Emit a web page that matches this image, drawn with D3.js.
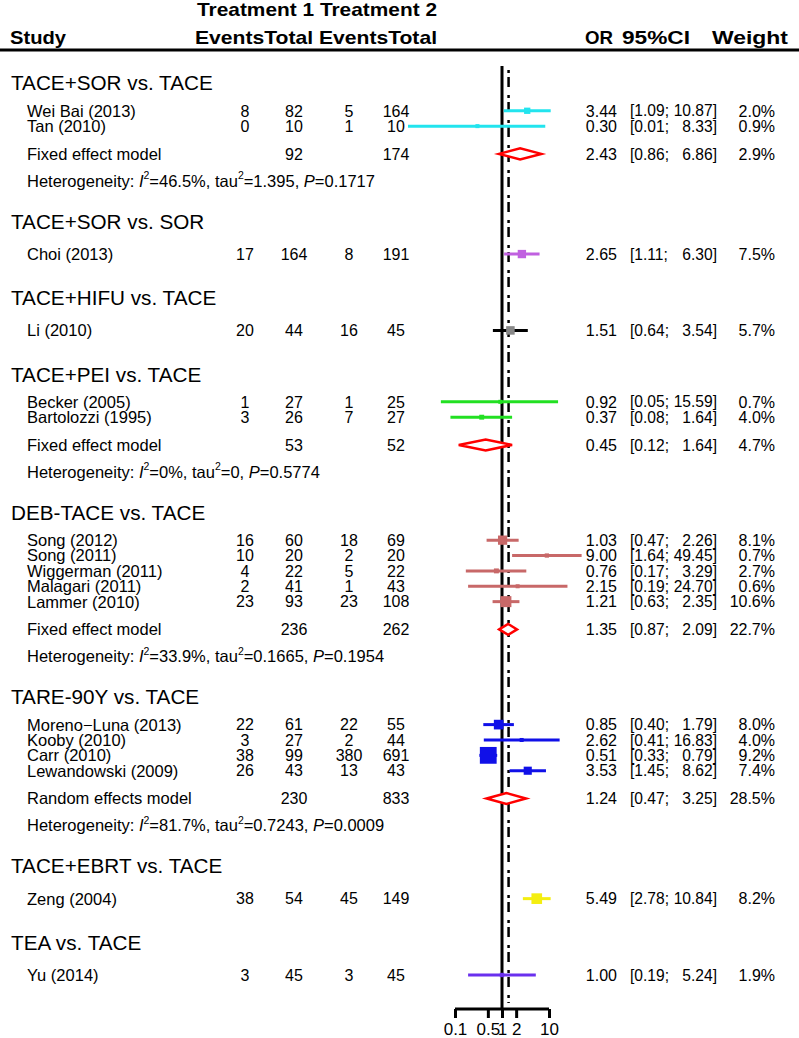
<!DOCTYPE html>
<html>
<head>
<meta charset="utf-8">
<script src="https://cdn.jsdelivr.net/npm/d3@7"></script>
<style>
  body { margin: 0; background: #fff; }
  svg { display: block; font-family: "Liberation Sans", Arial, sans-serif; }
</style>
</head>
<body>
<div id="chart"></div>
<script>
// Subgroups
const groupNames = ['TACE+SOR vs. TACE', 'TACE+SOR vs. SOR', 'TACE+HIFU vs. TACE', 'TACE+PEI vs. TACE',
    'DEB-TACE vs. TACE', 'TARE-90Y vs. TACE', 'TACE+EBRT vs. TACE', 'TEA vs. TACE'];

// Studies
const studyNames = ['Wei Bai (2013)', 'Tan (2010)', 'Choi (2013)', 'Li (2010)', 'Becker (2005)', 'Bartolozzi (1995)',
    'Song  (2012)', 'Song (2011)', 'Wiggerman (2011)', 'Malagari (2011)', 'Lammer (2010)',
    'Moreno\u2212Luna (2013)', 'Kooby (2010)', 'Carr (2010)', 'Lewandowski (2009)', 'Zeng (2004)', 'Yu (2014)'];
const studyGroup = [0, 0, 1, 2, 3, 3, 4, 4, 4, 4, 4, 5, 5, 5, 5, 6, 7];
const events1 = [8, 0, 17, 20, 1, 3, 16, 10, 4, 2, 23, 22, 3, 38, 26, 38, 3];
const total1 = [82, 10, 164, 44, 27, 26, 60, 20, 22, 41, 93, 61, 27, 99, 43, 54, 45];
const events2 = [5, 1, 8, 16, 1, 7, 18, 2, 5, 1, 23, 22, 2, 380, 13, 45, 3];
const total2 = [164, 10, 191, 45, 25, 27, 69, 20, 22, 43, 108, 55, 44, 691, 43, 149, 45];
const studyOR = [3.44, 0.30, 2.65, 1.51, 0.92, 0.37, 1.03, 9.00, 0.76, 2.15, 1.21, 0.85, 2.62, 0.51, 3.53, 5.49, 1.00];
const studyLow = [1.09, 0.01, 1.11, 0.64, 0.05, 0.08, 0.47, 1.64, 0.17, 0.19, 0.63, 0.40, 0.41, 0.33, 1.45, 2.78, 0.19];
const studyHigh = [10.87, 8.33, 6.30, 3.54, 15.59, 1.64, 2.26, 49.45, 3.29, 24.70, 2.35, 1.79, 16.83, 0.79, 8.62, 10.84, 5.24];
const studyWeight = ['2.0%', '0.9%', '7.5%', '5.7%', '0.7%', '4.0%', '8.1%', '0.7%', '2.7%', '0.6%', '10.6%',
    '8.0%', '4.0%', '9.2%', '7.4%', '8.2%', '1.9%'];

// Pooled estimates
const pooledGroup = [0, 3, 4, 5];
const pooledLabel = ['Fixed effect model', 'Fixed effect model', 'Fixed effect model', 'Random effects model'];
const pooledTotal1 = [92, 53, 236, 230];
const pooledTotal2 = [174, 52, 262, 833];
const pooledOR = [2.43, 0.45, 1.35, 1.24];
const pooledLow = [0.86, 0.12, 0.87, 0.47];
const pooledHigh = [6.86, 1.64, 2.09, 3.25];
const pooledWeight = ['2.9%', '4.7%', '22.7%', '28.5%'];

// Heterogeneity
const hetI2 = ['46.5%', '0%', '33.9%', '81.7%'];
const hetTau2 = ['1.395', '0', '0.1665', '0.7243'];
const hetP = ['0.1717', '0.5774', '0.1954', '0.0009'];

// Axis
const tickValues = [0.1, 0.5, 1, 2, 10];
const tickLabels = ['0.1', '0.5', '1', '2', '10'];
const dashedRef = 1.38;

const groupColors = ['#22e4ee', '#c060e0', '#000000', '#22e022', '#c86868', '#1010e8', '#f4ee10', '#6a30ee'];

const width = 799, height = 1038;
const svg = d3.select('#chart')
    .append('svg')
    .attr('width', width)
    .attr('height', height);
svg.append('rect').attr('width', width).attr('height', height).attr('fill', '#fff');

// Build the row list and lay it out
const rows = [];
groupNames.forEach((g, gi) => {
    const idx = studyGroup.map((s, i) => s === gi ? i : -1).filter(i => i >= 0);
    const pi = pooledGroup.indexOf(gi);
    rows.push({type: 'head', gi, gap: 41});
    idx.forEach((i, k) => rows.push({type: 'study', gi, i, gap: k === 0 ? (idx.length > 1 ? 28 : 33) : 15.5}));
    if (pi >= 0) {
        rows.push({type: 'pooled', gi, pi, gap: 28});
        rows.push({type: 'het', gi, pi, gap: 27});
    }
});
// gap before a heading depends on what came before it
let acc = 0;
rows.forEach((r, k) => {
    if (k > 0) {
        let gap = r.gap;
        if (r.type === 'head' && rows[k - 1].type === 'study') gap = 44;
        acc += gap;
    }
    r.u = acc;
});
const y = d3.scaleLinear().domain([0, acc]).range([83, 975]);

const x = d3.scaleLog().domain([0.1, 10]).range([455, 549]);

// Column positions
const colStudy = 27, colHead = 11;
const colE1 = 245, colN1 = 294, colE2 = 349, colN2 = 396;
const colOR = 617, colCIL = 630, colCIR = 717, colW = 775;

// Header
const header = svg.append('g').attr('font-weight', 'bold').attr('font-size', '19px').attr('fill', '#000');
header.append('text').attr('x', 197).attr('y', 16).attr('textLength', 240).attr('lengthAdjust', 'spacingAndGlyphs')
    .text('Treatment 1 Treatment 2');
header.append('text').attr('x', 10).attr('y', 44).attr('textLength', 56).attr('lengthAdjust', 'spacingAndGlyphs').text('Study');
header.append('text').attr('x', 195).attr('y', 44).attr('textLength', 242).attr('lengthAdjust', 'spacingAndGlyphs')
    .text('EventsTotal EventsTotal');
header.append('text').attr('x', 585).attr('y', 44).attr('textLength', 28).attr('lengthAdjust', 'spacingAndGlyphs').text('OR');
header.append('text').attr('x', 622).attr('y', 44).attr('textLength', 68).attr('lengthAdjust', 'spacingAndGlyphs').text('95%CI');
header.append('text').attr('x', 712).attr('y', 44).attr('textLength', 76).attr('lengthAdjust', 'spacingAndGlyphs').text('Weight');
svg.append('line').attr('x1', 0).attr('x2', width).attr('y1', 50).attr('y2', 50)
    .attr('stroke', '#000').attr('stroke-width', 3);

// Reference lines
const yTop = 66, yAxis = 1009;
svg.append('line')
    .attr('x1', x(1)).attr('x2', x(1)).attr('y1', yTop).attr('y2', yAxis)
    .attr('stroke', '#000').attr('stroke-width', 3);
svg.append('line')
    .attr('x1', x(dashedRef)).attr('x2', x(dashedRef)).attr('y1', yTop + 4).attr('y2', yAxis - 6)
    .attr('stroke', '#000').attr('stroke-width', 2.5)
    .attr('stroke-dasharray', '3,4,10,8');

// Axis
const axis = svg.append('g')
    .attr('transform', `translate(0,${yAxis})`)
    .call(d3.axisBottom(x).tickValues(tickValues).tickSize(9).tickFormat((d, i) => tickLabels[i]));
axis.select('.domain').attr('d', `M${x(0.1)},0H${x(10)}`).attr('stroke-width', 3);
axis.selectAll('.tick line').attr('stroke-width', 3);
axis.selectAll('.tick text').attr('font-size', '17px').attr('font-family', '"Liberation Sans", Arial, sans-serif')
    .attr('fill', '#000').attr('y', 14);

const body = svg.append('g').attr('font-size', '16px').attr('fill', '#000');
const fixedW = i => {
    // inverse-variance weight of the log odds ratio (0.5 added to zero cells)
    let a = events1[i], b = total1[i] - a, c = events2[i], d = total2[i] - c;
    if (a === 0 || b === 0 || c === 0 || d === 0) { a += 0.5; b += 0.5; c += 0.5; d += 0.5; }
    return 1 / (1 / a + 1 / b + 1 / c + 1 / d);
};

// right-hand columns: OR, CI halves, weight
const rightCols = (yy, or, lo, hi, w) => {
    body.append('text').attr('x', colOR).attr('y', yy).attr('dy', '0.36em').attr('text-anchor', 'end').text(or.toFixed(2));
    body.append('text').attr('x', colCIL).attr('y', yy).attr('dy', '0.36em').attr('font-size', '15.6px')
        .text(`[${lo.toFixed(2)};`);
    body.append('text').attr('x', colCIR).attr('y', yy).attr('dy', '0.36em').attr('font-size', '15.6px')
        .attr('text-anchor', 'end').text(`${hi.toFixed(2)}]`);
    body.append('text').attr('x', colW).attr('y', yy).attr('dy', '0.36em').attr('text-anchor', 'end').text(w);
};

rows.forEach(r => {
    const yy = y(r.u);
    const col = groupColors[r.gi];
    if (r.type === 'head') {
        body.append('text').attr('x', colHead).attr('y', yy).attr('dy', '0.36em')
            .attr('font-size', '20.7px').text(groupNames[r.gi]);
    } else if (r.type === 'study') {
        const i = r.i;
        body.append('text').attr('x', colStudy).attr('y', yy).attr('dy', '0.36em').attr('font-size', '16.5px').text(studyNames[i]);
        [[colE1, events1[i]], [colN1, total1[i]], [colE2, events2[i]], [colN2, total2[i]]].forEach(([cx, v]) =>
            body.append('text').attr('x', cx).attr('y', yy).attr('dy', '0.36em').attr('text-anchor', 'middle').text(v));
        rightCols(yy, studyOR[i], studyLow[i], studyHigh[i], studyWeight[i]);
        // CI line and box
        svg.append('line')
            .attr('x1', x(studyLow[i])).attr('x2', x(studyHigh[i])).attr('y1', yy).attr('y2', yy)
            .attr('stroke', col).attr('stroke-width', 3);
        const s = Math.max(4, 3.7 * Math.sqrt(fixedW(i)));
        svg.append('rect')
            .attr('x', x(studyOR[i]) - s / 2).attr('y', yy - s / 2)
            .attr('width', s).attr('height', s)
            .attr('fill', col === '#000000' ? '#888' : col);
    } else if (r.type === 'pooled') {
        const p = r.pi;
        body.append('text').attr('x', colStudy).attr('y', yy).attr('dy', '0.36em').attr('font-size', '16.5px').text(pooledLabel[p]);
        body.append('text').attr('x', colN1).attr('y', yy).attr('dy', '0.36em').attr('text-anchor', 'middle').text(pooledTotal1[p]);
        body.append('text').attr('x', colN2).attr('y', yy).attr('dy', '0.36em').attr('text-anchor', 'middle').text(pooledTotal2[p]);
        rightCols(yy, pooledOR[p], pooledLow[p], pooledHigh[p], pooledWeight[p]);
        const pts = [[x(pooledLow[p]), yy], [x(pooledOR[p]), yy - 5.5], [x(pooledHigh[p]), yy], [x(pooledOR[p]), yy + 5.5]];
        svg.append('polygon')
            .attr('points', pts.map(d => d.join(',')).join(' '))
            .attr('fill', '#fff').attr('stroke', '#ff0000').attr('stroke-width', 2.5);
    } else {
        const p = r.pi;
        const t = body.append('text').attr('x', colStudy).attr('y', yy).attr('dy', '0.36em').attr('font-size', '16.5px');
        t.append('tspan').text('Heterogeneity: ');
        t.append('tspan').attr('font-style', 'italic').text('I');
        t.append('tspan').attr('font-size', '10.5px').attr('dy', '-0.7em').text('2');
        t.append('tspan').attr('dy', '0.45em').text(`=${hetI2[p]}, tau`);
        t.append('tspan').attr('font-size', '10.5px').attr('dy', '-0.7em').text('2');
        t.append('tspan').attr('dy', '0.45em').text(`=${hetTau2[p]}, `);
        t.append('tspan').attr('font-style', 'italic').text('P');
        t.append('tspan').text(`=${hetP[p]}`);
    }
});
</script>
</body>
</html>
